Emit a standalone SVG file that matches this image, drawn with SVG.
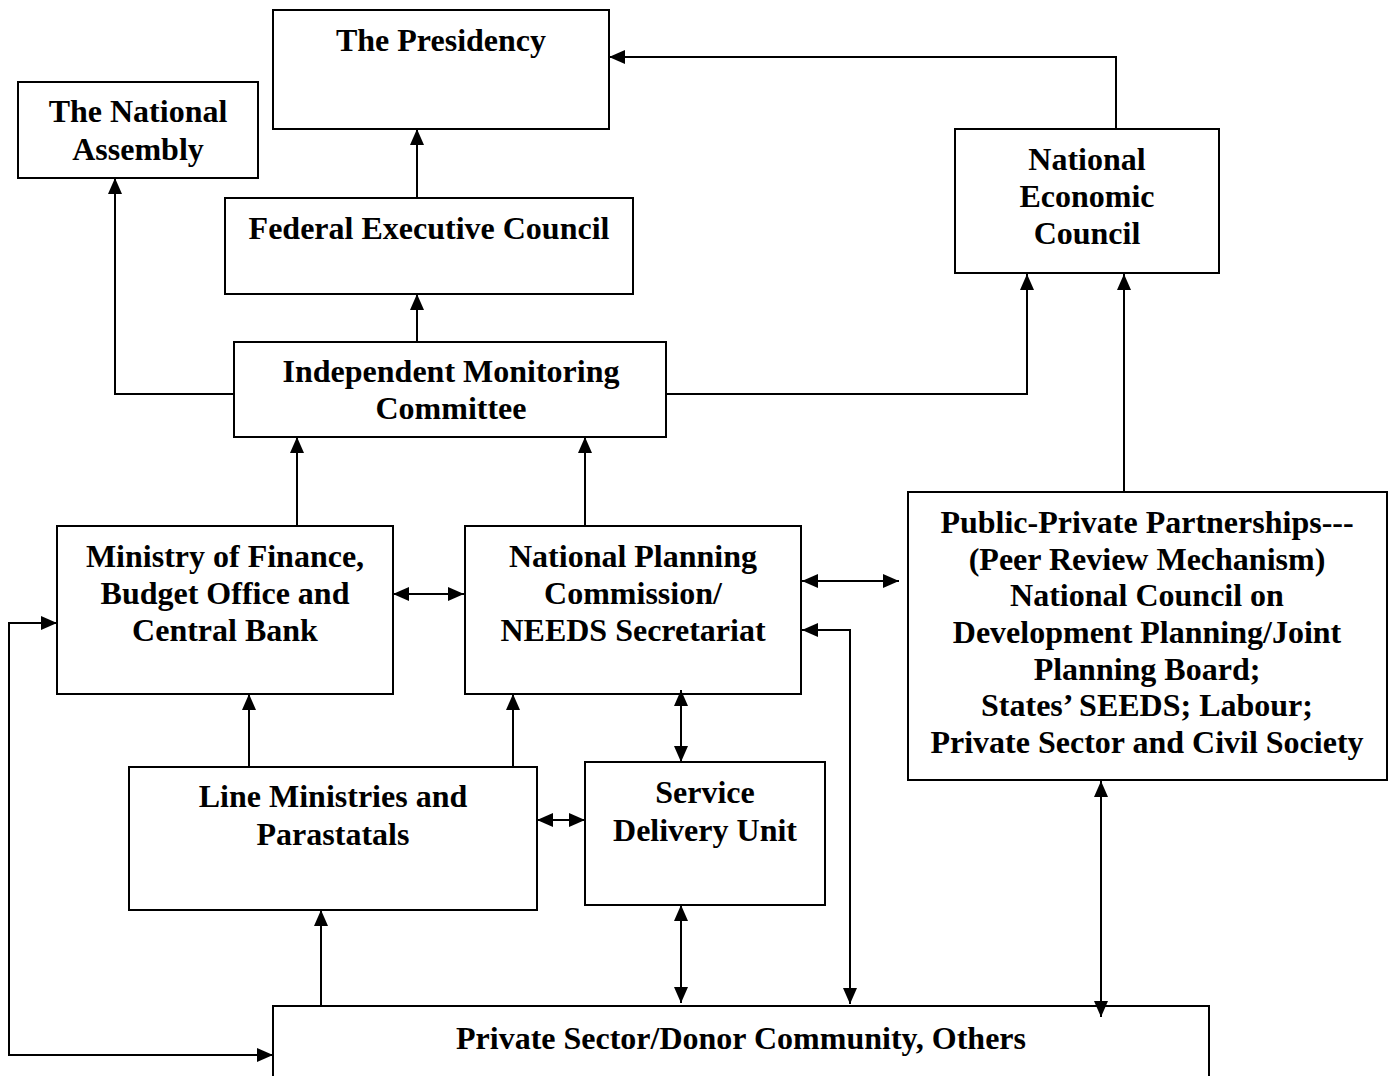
<svg xmlns="http://www.w3.org/2000/svg" width="1395" height="1076" viewBox="0 0 1395 1076">
<style>
.box{fill:#fff;stroke:#000;stroke-width:2}
.t{font-family:"Liberation Serif","Times New Roman",serif;font-weight:bold;font-size:32px;text-anchor:middle;fill:#000}
.c{fill:none;stroke:#000;stroke-width:2}
.a{marker-end:url(#ah)}
.d{marker-start:url(#ah);marker-end:url(#ah)}
</style>
<defs>
<marker id="ah" markerUnits="userSpaceOnUse" markerWidth="16" markerHeight="14" refX="16" refY="7" orient="auto-start-reverse" viewBox="0 0 16 14">
<path d="M0,0 L16,7 L0,14 z" fill="#000"/>
</marker>
</defs>
<rect width="1395" height="1076" fill="#fff"/>
<g id="presidency">
<rect class="box" x="273" y="10" width="336" height="119"/>
<text class="t" x="441" y="51">The Presidency</text>
</g>
<g id="national-assembly">
<rect class="box" x="18" y="82" width="240" height="96"/>
<text class="t" x="138" y="122">The National</text>
<text class="t" x="138" y="160">Assembly</text>
</g>
<g id="fec">
<rect class="box" x="225" y="198" width="408" height="96"/>
<text class="t" x="429" y="239">Federal Executive Council</text>
</g>
<g id="imc">
<rect class="box" x="234" y="342" width="432" height="95"/>
<text class="t" x="451" y="382">Independent Monitoring</text>
<text class="t" x="451" y="419">Committee</text>
</g>
<g id="nec">
<rect class="box" x="955" y="129" width="264" height="144"/>
<text class="t" x="1087" y="170">National</text>
<text class="t" x="1087" y="207">Economic</text>
<text class="t" x="1087" y="244">Council</text>
</g>
<g id="mof">
<rect class="box" x="57" y="526" width="336" height="168"/>
<text class="t" x="225" y="567">Ministry of Finance,</text>
<text class="t" x="225" y="604">Budget Office and</text>
<text class="t" x="225" y="641">Central Bank</text>
</g>
<g id="npc">
<rect class="box" x="465" y="526" width="336" height="168"/>
<text class="t" x="633" y="567">National Planning</text>
<text class="t" x="633" y="604">Commission/</text>
<text class="t" x="633" y="641">NEEDS Secretariat</text>
</g>
<g id="ppp">
<rect class="box" x="908" y="492" width="479" height="288"/>
<text class="t" x="1147" y="533">Public-Private Partnerships---</text>
<text class="t" x="1147" y="570">(Peer Review Mechanism)</text>
<text class="t" x="1147" y="606">National Council on</text>
<text class="t" x="1147" y="643">Development Planning/Joint</text>
<text class="t" x="1147" y="680">Planning Board;</text>
<text class="t" x="1147" y="716">States’ SEEDS; Labour;</text>
<text class="t" x="1147" y="753">Private Sector and Civil Society</text>
</g>
<g id="line-ministries">
<rect class="box" x="129" y="767" width="408" height="143"/>
<text class="t" x="333" y="807">Line Ministries and</text>
<text class="t" x="333" y="845">Parastatals</text>
</g>
<g id="sdu">
<rect class="box" x="585" y="762" width="240" height="143"/>
<text class="t" x="705" y="803">Service</text>
<text class="t" x="705" y="841">Delivery Unit</text>
</g>
<g id="private">
<rect class="box" x="273" y="1006" width="936" height="90"/>
<text class="t" x="741" y="1049">Private Sector/Donor Community, Others</text>
</g>
<g id="connectors">
<path class="c a" d="M234,394 H115 V178"/>
<path class="c a" d="M417,342 V294"/>
<path class="c a" d="M417,198 V129"/>
<path class="c a" d="M1116,129 V57 H609"/>
<path class="c a" d="M666,394 H1027 V274"/>
<path class="c a" d="M1124,492 V274"/>
<path class="c a" d="M297,526 V437"/>
<path class="c a" d="M585,526 V437"/>
<path class="c d" d="M393,594 H464"/>
<path class="c d" d="M802,581 H899"/>
<path class="c d" d="M850,1004 V630 H802"/>
<path class="c a" d="M249,767 V694"/>
<path class="c a" d="M513,767 V694"/>
<path class="c d" d="M537,820 H585"/>
<path class="c d" d="M681,690 V762"/>
<path class="c d" d="M681,905 V1003"/>
<path class="c a" d="M321,1006 V910"/>
<path class="c d" d="M273,1055 H9 V623 H57"/>
<path class="c d" d="M1101,781 V1017"/>
</g>
</svg>
